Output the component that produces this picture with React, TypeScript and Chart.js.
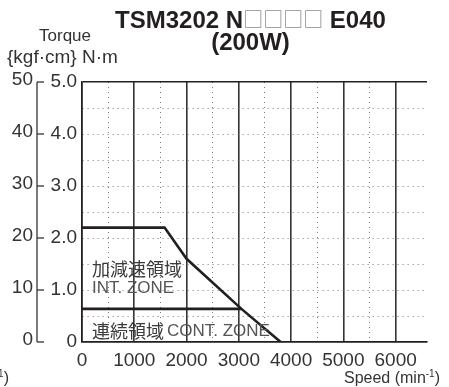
import React, { useEffect, useRef } from "react";
import { Chart, registerables } from "chart.js";

Chart.register(...registerables);

// Speed axis (min^-1): grid every 500, labels every 1000
const speedGridValues = [0, 500, 1000, 1500, 2000, 2500, 3000, 3500, 4000, 4500, 5000, 5500, 6000];
const speedMax = 6600;

// Torque axis (N·m): grid every 0.5, labels every 1.0
const torqueGridValues = [0, 0.5, 1, 1.5, 2, 2.5, 3, 3.5, 4, 4.5, 5];
const torqueMax = 5;

// Secondary torque axis {kgf·cm}
const kgfTicks = [0, 10, 20, 30, 40, 50];
const kgfMax = 50;

// Intermittent (acceleration / deceleration) zone boundary
const intSpeed = [0, 1580, 2000, 3050, 3800];
const intTorque = [2.2, 2.2, 1.6, 0.637, 0];

// Continuous zone boundary
const contSpeed = [0, 3050];
const contTorque = [0.637, 0.637];

const titleLine1 = ["TSM3202 N", "□□□□", " E040"];
const titleLine2 = "(200W)";
const yTitle1 = "Torque";
const yTitle2 = "{kgf·cm} N·m";
const xTitle = "Speed (min";
const xTitleSup = "-1";
const intLabelJa = "加減速領域";
const intLabelEn = "INT. ZONE";
const contLabelJa = "連続領域";
const contLabelEn = "CONT. ZONE";

const SANS = '"Liberation Sans", Arial, sans-serif';
const CJK = '"Noto Sans CJK JP", "Noto Sans CJK SC", sans-serif';
const INK = "#231f20";
const TEXT = "#333333";

function drawSpeedTitle(ctx: CanvasRenderingContext2D, right: number, y: number) {
  ctx.textBaseline = "alphabetic";
  ctx.textAlign = "left";
  ctx.font = `16px ${SANS}`;
  const wMain = ctx.measureText(xTitle).width;
  const wClose = ctx.measureText(")").width;
  ctx.font = `10px ${SANS}`;
  const wSup = ctx.measureText(xTitleSup).width;
  let x = right - wMain - wSup - wClose;
  ctx.font = `16px ${SANS}`;
  ctx.fillText(xTitle, x, y);
  x += wMain;
  ctx.font = `10px ${SANS}`;
  ctx.fillText(xTitleSup, x, y - 6);
  x += wSup;
  ctx.font = `16px ${SANS}`;
  ctx.fillText(")", x, y);
}

const decorations = {
  id: "decorations",
  afterDraw(chart: any) {
    const { ctx, chartArea, scales } = chart;
    const xs = scales.x;
    const ys = scales.y;
    const yk = scales.yk;
    ctx.save();

    // {kgf·cm} axis
    const axisX = chartArea.left - 45;
    ctx.strokeStyle = "#333";
    ctx.lineWidth = 1.3;
    ctx.beginPath();
    ctx.moveTo(axisX, yk.getPixelForValue(kgfMax));
    ctx.lineTo(axisX, yk.getPixelForValue(0));
    ctx.stroke();
    ctx.fillStyle = TEXT;
    ctx.font = `19px ${SANS}`;
    ctx.textAlign = "right";
    ctx.textBaseline = "middle";
    for (const v of kgfTicks) {
      const py = yk.getPixelForValue(v);
      ctx.beginPath();
      ctx.moveTo(axisX, py);
      ctx.lineTo(axisX + 7, py);
      ctx.stroke();
      ctx.fillText(String(v), axisX - 4, py - 2);
    }

    // Axis titles
    ctx.textBaseline = "alphabetic";
    ctx.textAlign = "center";
    ctx.font = `17px ${SANS}`;
    ctx.fillText(yTitle1, 65, 41);
    ctx.textAlign = "left";
    ctx.font = `19px ${SANS}`;
    ctx.fillText(yTitle2, 7, 63);
    drawSpeedTitle(ctx, 440, 383);
    drawSpeedTitle(ctx, 9, 383);

    // Title
    const cx = (chartArea.left + chartArea.right) / 2 - 4;
    ctx.font = `bold 24px ${SANS}`;
    const w0 = ctx.measureText(titleLine1[0]).width;
    const w2 = ctx.measureText(titleLine1[2]).width;
    ctx.font = `20px ${CJK}`;
    const w1 = ctx.measureText(titleLine1[1]).width;
    let tx = cx - (w0 + w1 + w2) / 2;
    ctx.textAlign = "left";
    ctx.fillStyle = INK;
    ctx.font = `bold 24px ${SANS}`;
    ctx.fillText(titleLine1[0], tx, 28);
    tx += w0;
    ctx.fillStyle = "#8a8a8a";
    ctx.font = `20px ${CJK}`;
    ctx.fillText(titleLine1[1], tx, 27);
    tx += w1;
    ctx.fillStyle = INK;
    ctx.font = `bold 24px ${SANS}`;
    ctx.fillText(titleLine1[2], tx, 28);
    ctx.textAlign = "center";
    ctx.fillText(titleLine2, cx, 50);

    // Zone labels
    const lx = xs.getPixelForValue(0) + 10;
    ctx.textAlign = "left";
    ctx.textBaseline = "middle";
    ctx.fillStyle = "#3a3a3a";
    ctx.font = `18px ${CJK}`;
    ctx.fillText(intLabelJa, lx, ys.getPixelForValue(1.41));
    ctx.fillStyle = "#555";
    ctx.font = `17px ${SANS}`;
    ctx.fillText(intLabelEn, lx, ys.getPixelForValue(1.03));
    ctx.fillStyle = "#3a3a3a";
    ctx.font = `18px ${CJK}`;
    ctx.fillText(contLabelJa, lx, ys.getPixelForValue(0.2));
    const wj = ctx.measureText(contLabelJa).width;
    ctx.fillStyle = "#555";
    ctx.font = `17px ${SANS}`;
    ctx.fillText(contLabelEn, lx + wj + 3, ys.getPixelForValue(0.2));

    ctx.restore();
  },
};

const isMajorX = (v: number) => v % 1000 === 0;
const isEdgeY = (v: number) => v === 0 || v === torqueMax;

export default function App() {
  const ref = useRef<HTMLCanvasElement | null>(null);

  useEffect(() => {
    const canvas = ref.current;
    if (!canvas) return;
    const lineStyle = {
      borderColor: INK,
      borderWidth: 2.6,
      pointRadius: 0,
      tension: 0,
      fill: false,
    };
    const chart = new Chart(canvas, {
      type: "line",
      data: {
        datasets: [
          {
            label: intLabelEn,
            data: intSpeed.map((s, i) => ({ x: s, y: intTorque[i] })),
            ...lineStyle,
          },
          {
            label: contLabelEn,
            data: contSpeed.map((s, i) => ({ x: s, y: contTorque[i] })),
            ...lineStyle,
          },
        ],
      },
      options: {
        responsive: false,
        animation: false,
        devicePixelRatio: 1,
        layout: { padding: { left: 0, top: 82, right: 22, bottom: 0 } },
        plugins: { legend: { display: false }, tooltip: { enabled: false }, title: { display: false } },
        scales: {
          x: {
            type: "linear",
            min: 0,
            max: speedMax,
            afterFit: (s: any) => {
              s.height = 45;
            },
            afterBuildTicks: (s: any) => {
              s.ticks = speedGridValues.map((v) => ({ value: v }));
            },
            ticks: {
              autoSkip: false,
              maxRotation: 0,
              padding: 7,
              color: TEXT,
              font: { family: SANS, size: 19 },
              callback: (v: any) => (isMajorX(Number(v)) ? String(v) : ""),
            },
            grid: {
              drawTicks: false,
              color: (c: any) => {
                const v = c.tick ? c.tick.value : 0;
                return isMajorX(v) ? "#333" : "#7a7a7a";
              },
              lineWidth: (c: any) => {
                const v = c.tick ? c.tick.value : 0;
                return isMajorX(v) ? 1.6 : 1;
              },
            },
            border: {
              display: true,
              color: INK,
              width: 1.6,
              dash: (c: any) => {
                if (!c.tick) return [];
                return isMajorX(c.tick.value) ? [] : [1, 4];
              },
            },
          },
          y: {
            type: "linear",
            position: "left",
            min: 0,
            max: torqueMax,
            afterFit: (s: any) => {
              s.width = 82;
            },
            afterBuildTicks: (s: any) => {
              s.ticks = torqueGridValues.map((v) => ({ value: v }));
            },
            ticks: {
              autoSkip: false,
              padding: 5,
              color: TEXT,
              font: { family: SANS, size: 19 },
              callback: (v: any) => {
                const n = Number(v);
                if (n === 0) return "0";
                return n % 1 === 0 ? n.toFixed(1) : "";
              },
            },
            grid: {
              drawTicks: false,
              color: (c: any) => {
                const v = c.tick ? c.tick.value : 0;
                return isEdgeY(v) ? INK : "#7a7a7a";
              },
              lineWidth: (c: any) => {
                const v = c.tick ? c.tick.value : 0;
                return isEdgeY(v) ? 1.6 : 1;
              },
            },
            border: {
              display: true,
              color: INK,
              width: 1.6,
              dash: (c: any) => {
                if (!c.tick) return [];
                return isEdgeY(c.tick.value) ? [] : [1, 4];
              },
            },
          },
          yk: {
            type: "linear",
            position: "left",
            min: 0,
            max: kgfMax,
            display: false,
          },
        },
      } as any,
      plugins: [decorations],
    });
    return () => chart.destroy();
  }, []);

  return (
    <div style={{ position: "absolute", left: 0, top: 0, width: 449, height: 387, background: "#fff" }}>
      <canvas ref={ref} width={449} height={387} style={{ display: "block", width: 449, height: 387 }} />
    </div>
  );
}
